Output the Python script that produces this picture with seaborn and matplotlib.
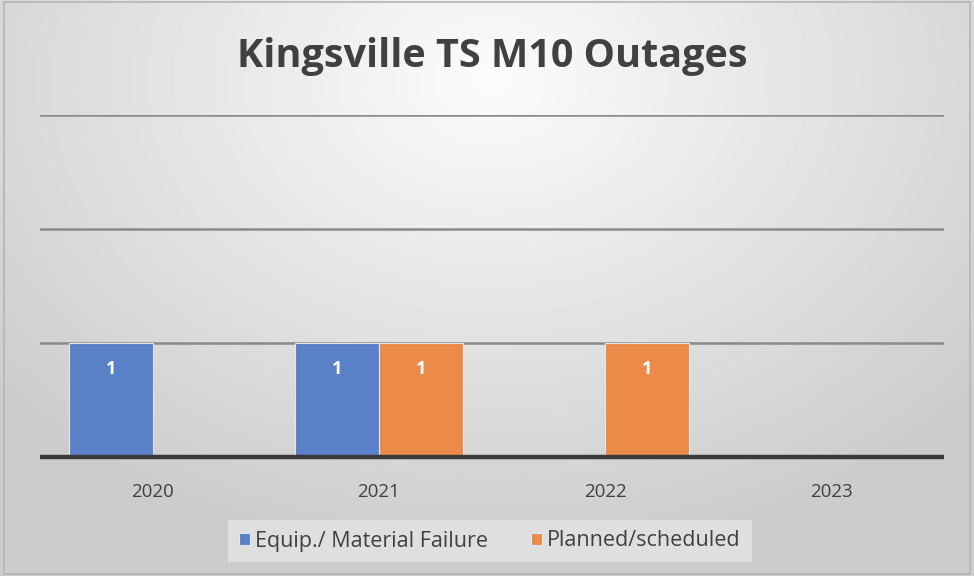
import numpy as np
import pandas as pd
import matplotlib.pyplot as plt
import seaborn as sns
from matplotlib.patches import Rectangle

years = ['2020', '2021', '2022', '2023']
equip_failure = [1, 1, 0, 0]
planned = [0, 1, 1, 0]
series_names = ['Equip./ Material Failure', 'Planned/scheduled']
colors = ['#5A80C8', '#EC8A4A']


def main():
    df = pd.DataFrame({
        'year': years * 2,
        'count': equip_failure + planned,
        'cause': [series_names[0]] * 4 + [series_names[1]] * 4,
    })

    sns.set_theme(style='white')
    plt.rcParams['font.family'] = ['Open Sans', 'DejaVu Sans']

    fig = plt.figure(figsize=(9.74, 5.76), dpi=100)

    # fundo com gradiente radial
    bg = fig.add_axes([0, 0, 1, 1], zorder=0)
    yy, xx = np.mgrid[0:576, 0:974]
    r = np.sqrt(((xx - 490) / 700.0) ** 2 + ((yy - 80) / 520.0) ** 2)
    shade = np.clip(0.985 - 0.2 * r, 0.80, 1.0)
    bg.imshow(shade, cmap='gray', vmin=0, vmax=1, aspect='auto',
              extent=[0, 1, 0, 1], origin='upper')
    bg.add_patch(Rectangle((0.004, 0.004), 0.992, 0.992, fill=False,
                           edgecolor='#b5b5b5', linewidth=1.2))
    bg.set_axis_off()

    ax = fig.add_axes([40 / 974, 1 - 457 / 576, 904 / 974, 342 / 576], zorder=1)
    ax.set_facecolor('none')

    sns.barplot(data=df, x='year', y='count', hue='cause', palette=colors,
                saturation=1, width=0.744, edgecolor='#dfe6f2', linewidth=0.8,
                legend=True, ax=ax, zorder=3)

    ax.set_ylim(0, 3)
    ax.set_yticks([0, 1, 2, 3])
    ax.set_yticklabels([])
    ax.tick_params(axis='y', length=0)
    ax.tick_params(axis='x', length=0, labelsize=13.5, labelcolor='#404040', pad=19)
    for v in [1, 2, 3]:
        ax.axhline(v, color='#8a8a8a', linewidth=1.8, zorder=1)
    ax.axhline(0, color='#3a3a3a', linewidth=3.2, zorder=4, clip_on=False,
               solid_capstyle='butt')
    for s in ax.spines.values():
        s.set_visible(False)
    ax.set_xlabel('')
    ax.set_ylabel('')

    for cont in ax.containers:
        labels = [str(int(b.get_height())) if b.get_height() > 0 else '' for b in cont]
        ax.bar_label(cont, labels=labels, label_type='edge', padding=-25,
                     color='white', fontsize=13, fontweight='bold')

    handles, labels = ax.get_legend_handles_labels()
    ax.legend_.remove()
    leg = fig.legend(handles, labels, loc='center', bbox_to_anchor=(490 / 974, 1 - 541 / 576),
                     ncol=2, frameon=True, fontsize=15.5, handlelength=0.5, handleheight=0.5,
                     handletextpad=0.25, columnspacing=2.0, borderpad=0.5, fancybox=False)
    leg.get_frame().set_facecolor('#e4e4e4')
    leg.get_frame().set_edgecolor('none')
    for t in leg.get_texts():
        t.set_color('#404040')

    fig.text(492 / 974, 1 - 57 / 576, 'Kingsville TS M10 Outages', ha='center', va='center',
             fontsize=28.5, fontweight='bold', color='#404040')

    fig.savefig('out.png', dpi=100)


if __name__ == '__main__':
    main()
